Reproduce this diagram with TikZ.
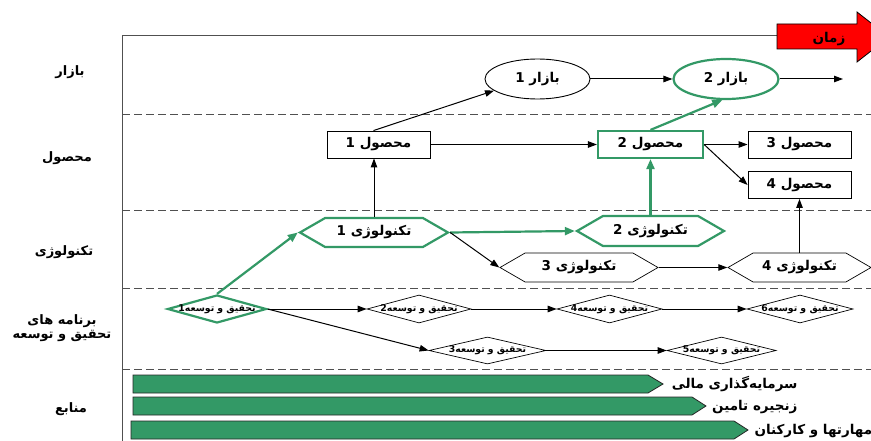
\documentclass[tikz,border=0pt]{standalone}
\usepackage{fontspec}
\usetikzlibrary{shapes.geometric,shapes.symbols,arrows.meta}
\TeXXeTstate=1
\newfontfamily\fa[Script=Arabic]{DejaVu Sans}
\definecolor{rdgreen}{RGB}{51,153,102}
\definecolor{framegray}{RGB}{80,80,80}
% right-to-left text, and a zero-width centred variant for shape labels
\newcommand{\rt}[1]{\beginR #1\endR}
\newcommand{\rz}[1]{\raisebox{-1.5pt}{\makebox[0pt]{\beginR #1\endR}}}

\tikzset{
  every node/.style={font=\fa\bfseries\fontsize{13.5}{15}\selectfont},
  lane/.style={font=\fa\bfseries\fontsize{13}{14}\selectfont, align=center},
  mktbox/.style={draw, ellipse, line width=0.9pt, inner sep=0pt,
    minimum width=105pt, minimum height=40pt},
  prodbox/.style={draw, rectangle, line width=0.9pt, inner sep=0pt,
    minimum width=103pt, minimum height=27pt},
  techbox/.style={draw, signal, signal to=east and west, signal pointer angle=60,
    line width=0.7pt, inner sep=0pt, minimum height=29pt},
  rdbox/.style={draw, diamond, aspect=3.5, line width=0.7pt, inner sep=0pt,
    minimum width=104pt, minimum height=28pt,
    font=\fa\bfseries\fontsize{9.3}{10}\selectfont},
  hl/.style={draw=rdgreen, line width=2.2pt},
  arr/.style={draw=black, line width=1pt, -{Triangle[length=9pt,width=6.5pt]}},
  garr/.style={draw=rdgreen, line width=2.2pt, -{Triangle[length=10pt,width=8pt]}},
  lanesep/.style={draw=framegray, line width=0.9pt, dash pattern=on 8pt off 4pt},
  resbar/.style={fill=rdgreen, draw=black!85, line width=0.8pt},
}

\begin{document}
\begin{tikzpicture}[x=1pt,y=-1pt]
\useasboundingbox (0,0) rectangle (871,441);
\fill[white] (0,0) rectangle (871,441);

% frame and lane separators
\draw[framegray, line width=1pt] (790,36) -- (122,36) -- (122,441);
\foreach \yy in {114,210,288,369} \draw[lanesep] (122,\yy) -- (871,\yy);

% time arrow
\filldraw[fill=red, draw=black, line width=0.8pt]
  (777,24) -- (857,24) -- (857,12) -- (889,37) -- (857,62) -- (857,49) -- (777,49) -- cycle;
\node (time) at (829,39.5) {\rt{زمان}};

% lane titles
\node[lane] (lmkt)  at (70,72)  {\rt{بازار}};
\node[lane] (lprod) at (67,158) {\rt{محصول}};
\node[lane] (ltech) at (64,252) {\rt{تکنولوژی}};
\node[lane] (lrd)   at (62,328) {\rt{برنامه های}\\\rt{تحقیق و توسعه}};
\node[lane] (lres)  at (71,409) {\rt{منابع}};

% markets
\node[mktbox] (m1) at (537.5,79) {\rz{بازار 1}};
\node[mktbox, hl] (m2) at (726,79) {\rz{بازار 2}};
\coordinate (mend) at (843,79);

% products
\node[prodbox] (p1) at (378.5,144.5) {\rz{محصول 1}};
\node[prodbox, hl, minimum width=105pt] (p2) at (650.5,144.5) {\rz{محصول 2}};
\node[prodbox] (p3) at (799.5,144.5) {\rz{محصول 3}};
\node[prodbox] (p4) at (799.5,185) {\rz{محصول 4}};

% technologies
\node[techbox, hl, minimum width=148pt] (t1) at (374,232.5) {\rz{تکنولوژی 1}};
\node[techbox, hl, minimum width=147pt, minimum height=30pt] (t2) at (650.5,231) {\rz{تکنولوژی 2}};
\node[techbox, minimum width=158pt] (t3) at (579,267.5) {\rz{تکنولوژی 3}};
\node[techbox, minimum width=143pt] (t4) at (799.5,267.5) {\rz{تکنولوژی 4}};

% R&D programmes
\node[rdbox, hl, minimum width=99pt] (r1) at (217,309) {\rz{تحقیق و توسعه1}};
\node[rdbox] (r2) at (419,309) {\rz{تحقیق و توسعه2}};
\node[rdbox, minimum width=105pt] (r4) at (609.5,309) {\rz{تحقیق و توسعه4}};
\node[rdbox, minimum width=106pt] (r6) at (800,309) {\rz{تحقیق و توسعه6}};
\node[rdbox, minimum width=117pt, minimum height=27pt] (r3) at (487.5,350.5) {\rz{تحقیق و توسعه3}};
\node[rdbox, minimum width=109pt, minimum height=27pt] (r5) at (721.5,350.5) {\rz{تحقیق و توسعه5}};

% connectors
\draw[arr] (m1) -- (m2);
\draw[arr] (m2) -- (mend);
\draw[arr] ([xshift=-5pt]p1.north) -- (m1.195);
\draw[garr] (p2.north) -- (m2.260);
\draw[arr] (p1) -- (p2);
\draw[arr] (p2) -- (p3);
\draw[arr] (p2.east) -- (p4.west);
\draw[arr] (t1.north) -- (t1.north |- p1.south);
\draw[garr] (t2.north) -- (p2.south);
\draw[arr] (t4.north) -- (p4.south);
\draw[garr] (t1.east) -- (t2.west);
\draw[arr] (t1.east) -- (t3.west);
\draw[arr] (t3.east) -- (t4.west);
\draw[garr] (r1.north) -- (t1.west);
\draw[arr] (r1.east) -- (r2.west);
\draw[arr] (r1.east) -- (r3.west);
\draw[arr] (r2.east) -- (r4.west);
\draw[arr] (r4.east) -- (r6.west);
\draw[arr] (r3.east) -- (r5.west);

% resources
\draw[resbar] (133,375) -- (648,375) -- (663,384) -- (648,393) -- (133,393) -- cycle;
\draw[resbar] (133,397) -- (692,397) -- (706,406) -- (692,415) -- (133,415) -- cycle;
\draw[resbar] (131,421) -- (734,421) -- (748,430) -- (734,439) -- (131,439) -- cycle;
\node[anchor=east] (res1) at (801,384) {\rt{سرمایه‌گذاری مالی}};
\node[anchor=east] (res2) at (801,407) {\rt{زنجیره تامین}};
\node[anchor=west] (res3) at (751,431) {\rt{مهارتها و کارکنان}};
\end{tikzpicture}
\end{document}
